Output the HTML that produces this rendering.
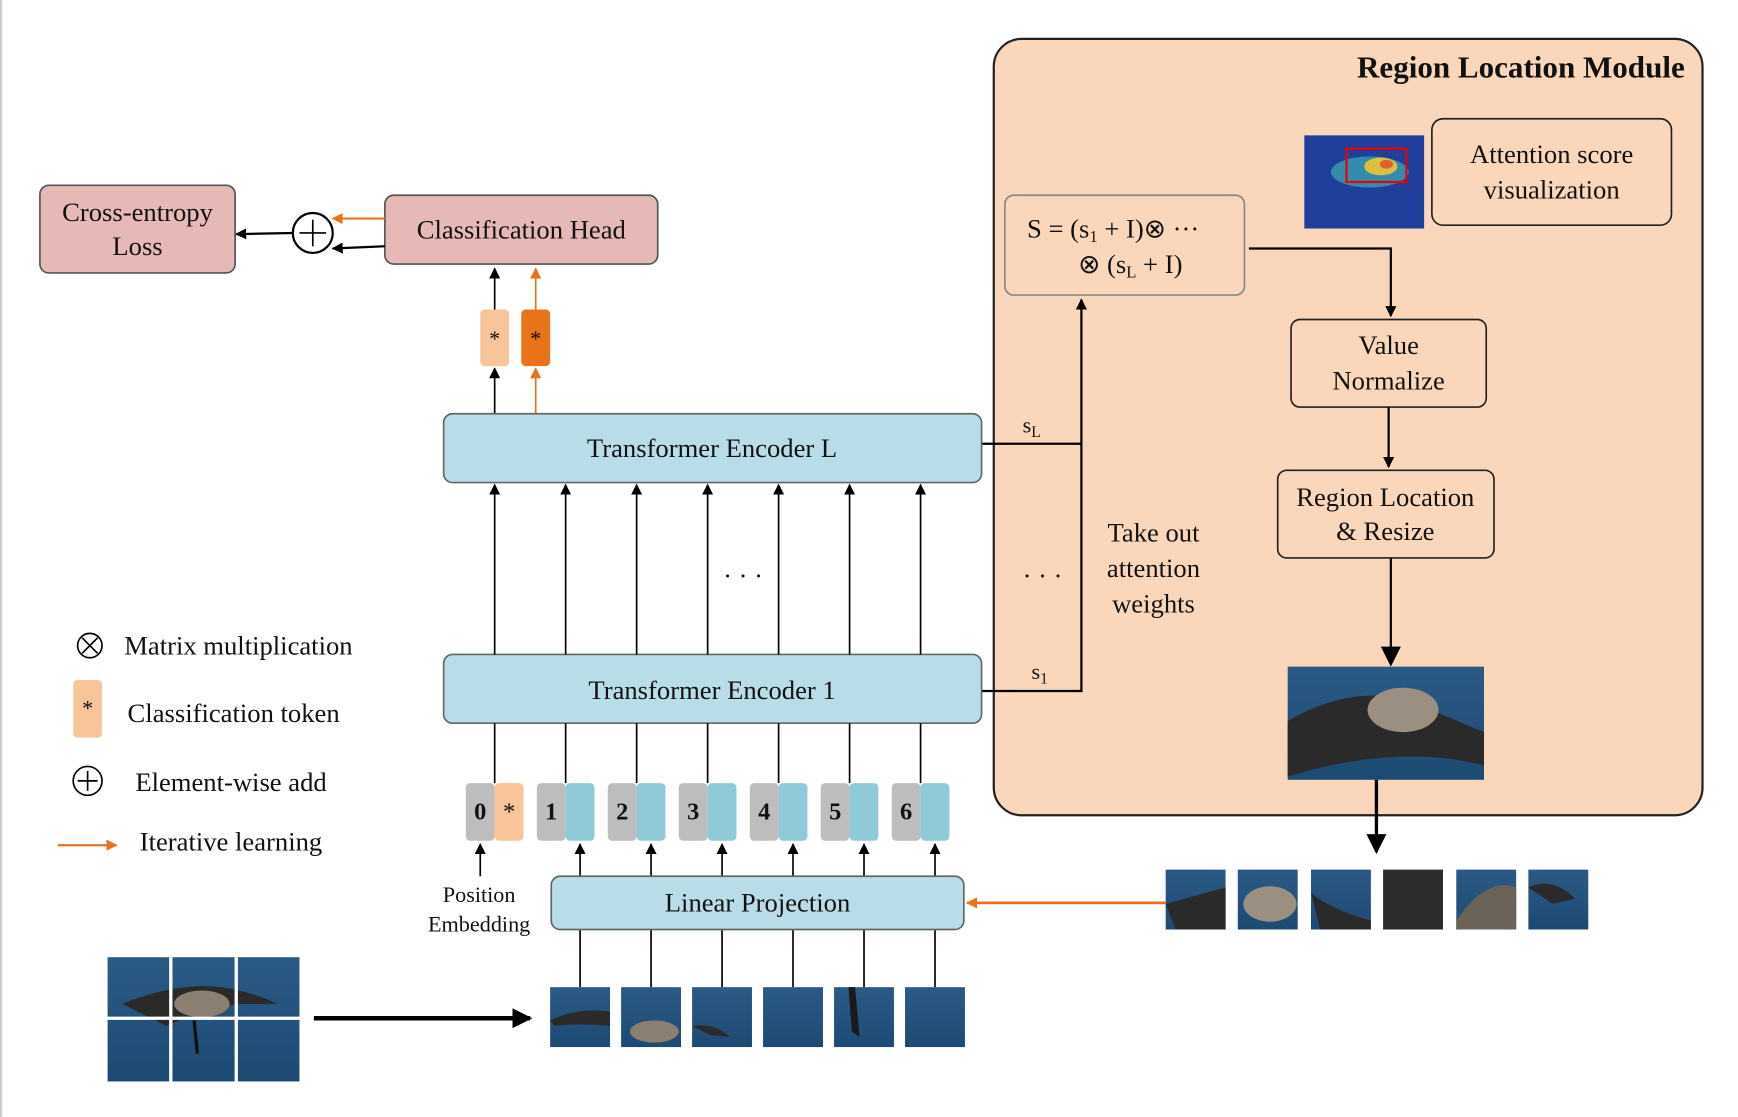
<!DOCTYPE html>
<html><head><meta charset="utf-8"><style>
html,body{margin:0;padding:0;background:#fff}
svg{display:block}
text{font-family:"Liberation Serif",serif;fill:#111}
</style></head><body>
<svg width="1738" height="1117" viewBox="0 0 1567 1007" xmlns="http://www.w3.org/2000/svg">
<defs>
<marker id="ab" markerWidth="10" markerHeight="10" refX="9" refY="5" orient="auto" markerUnits="userSpaceOnUse"><path d="M0,0 L10,5 L0,10 Z" fill="#000"/></marker>
<marker id="ao" markerWidth="10" markerHeight="10" refX="9" refY="5" orient="auto" markerUnits="userSpaceOnUse"><path d="M0,0 L10,5 L0,10 Z" fill="#e8731a"/></marker>
<marker id="abig" markerWidth="18" markerHeight="18" refX="16" refY="9" orient="auto" markerUnits="userSpaceOnUse"><path d="M0,0 L18,9 L0,18 Z" fill="#000"/></marker>
<linearGradient id="sea" x1="0" y1="0" x2="0" y2="1"><stop offset="0" stop-color="#2b5a85"/><stop offset="1" stop-color="#1d4a73"/></linearGradient>
</defs>
<line x1="1" y1="0" x2="1" y2="1007" stroke="#ccc" stroke-width="2"/>

<rect x="896" y="35" width="639" height="700" rx="25" fill="#fad7bb" stroke="#222" stroke-width="2"/>
<text x="1519" y="70" text-anchor="end" font-size="28" font-weight="bold">Region Location Module</text>
<rect x="906" y="176" width="216" height="90" rx="8" fill="#fad7bb" stroke="#888" stroke-width="1.5"/>
<text x="926" y="214" font-size="24">S = (s<tspan font-size="15" dy="4">1</tspan><tspan dy="-4"> + I)⊗ ···</tspan></text>
<text x="972" y="246" font-size="24">⊗ (s<tspan font-size="15" dy="4">L</tspan><tspan dy="-4"> + I)</tspan></text>
<rect x="1176" y="122" width="108" height="84" fill="#1f3f9a"/>
<ellipse cx="1235" cy="155" rx="35" ry="14" fill="#3aa0b0" opacity="0.8"/>
<ellipse cx="1245" cy="150" rx="15" ry="8" fill="#d8c040"/>
<ellipse cx="1250" cy="148" rx="6" ry="4" fill="#e06030"/>
<rect x="1214" y="134" width="54" height="30" fill="none" stroke="#e00" stroke-width="2"/>
<rect x="1291" y="107" width="216" height="96" rx="10" fill="#fad7bb" stroke="#222" stroke-width="1.5"/>
<text x="1399" y="147" text-anchor="middle" font-size="24">Attention score</text>
<text x="1399" y="179" text-anchor="middle" font-size="24">visualization</text>
<polyline points="1126,224 1254,224 1254,285" fill="none" stroke="#000" stroke-width="2" marker-end="url(#ab)"/>
<rect x="1164" y="288" width="176" height="79" rx="8" fill="#fad7bb" stroke="#222" stroke-width="1.5"/>
<text x="1252" y="319" text-anchor="middle" font-size="24">Value</text>
<text x="1252" y="351" text-anchor="middle" font-size="24">Normalize</text>
<line x1="1252" y1="367" x2="1252" y2="421" stroke="#000" stroke-width="2" marker-end="url(#ab)"/>
<rect x="1152" y="424" width="195" height="79" rx="8" fill="#fad7bb" stroke="#222" stroke-width="1.5"/>
<text x="1249" y="456" text-anchor="middle" font-size="24">Region Location</text>
<text x="1249" y="487" text-anchor="middle" font-size="24">&amp; Resize</text>
<line x1="1254" y1="503" x2="1254" y2="599" stroke="#000" stroke-width="2" marker-end="url(#abig)"/>
<rect x="1161" y="601" width="177" height="102" fill="url(#sea)"/>
<path d="M1161,650 Q1230,610 1290,640 L1338,660 L1338,690 Q1260,670 1161,700 Z" fill="#2a2a2a"/>
<ellipse cx="1265" cy="640" rx="32" ry="20" fill="#9a8f80"/>
<line x1="1241" y1="703" x2="1241" y2="768" stroke="#000" stroke-width="3" marker-end="url(#abig)"/>
<text x="922" y="390" font-size="20">s<tspan font-size="14" dy="4">L</tspan></text>
<text x="930" y="612" font-size="20">s<tspan font-size="14" dy="4">1</tspan></text>
<polyline points="885,400 975,400" fill="none" stroke="#000" stroke-width="2"/>
<polyline points="885,623 975,623 975,270" fill="none" stroke="#000" stroke-width="2" marker-end="url(#ab)"/>
<text x="940" y="527" text-anchor="middle" font-size="24">· · ·</text>
<text x="1040" y="488" text-anchor="middle" font-size="24">Take out</text>
<text x="1040" y="520" text-anchor="middle" font-size="24">attention</text>
<text x="1040" y="552" text-anchor="middle" font-size="24">weights</text>

<g>
<rect x="1051" y="784" width="54" height="54" fill="url(#sea)"/><path d="M1051,815 L1105,800 L1105,838 L1060,838Z" fill="#2a2a2a"/>
<rect x="1116" y="784" width="54" height="54" fill="url(#sea)"/><ellipse cx="1145" cy="815" rx="24" ry="16" fill="#9a8f80"/>
<rect x="1182" y="784" width="54" height="54" fill="url(#sea)"/><path d="M1182,805 Q1200,820 1236,830 L1236,838 L1190,838Z" fill="#2a2a2a"/>
<rect x="1247" y="784" width="54" height="54" fill="#2c2c2c"/>
<rect x="1313" y="784" width="54" height="54" fill="url(#sea)"/><path d="M1313,830 Q1340,790 1367,800 L1367,838 L1313,838Z" fill="#6b6358"/>
<rect x="1378" y="784" width="54" height="54" fill="url(#sea)"/><path d="M1378,800 Q1400,790 1420,810 L1400,815Z" fill="#2a2a2a"/>
</g>
<line x1="1051" y1="814" x2="872" y2="814" stroke="#e8731a" stroke-width="2.5" marker-end="url(#ao)"/>

<rect x="36" y="167" width="176" height="79" rx="8" fill="#e6b8b6" stroke="#555" stroke-width="1.5"/>
<text x="124" y="199" text-anchor="middle" font-size="24">Cross-entropy</text>
<text x="124" y="230" text-anchor="middle" font-size="24">Loss</text>
<rect x="347" y="176" width="246" height="62" rx="8" fill="#e6b8b6" stroke="#555" stroke-width="1.5"/>
<text x="470" y="215" text-anchor="middle" font-size="24">Classification Head</text>
<circle cx="282" cy="210" r="18" fill="#fff" stroke="#000" stroke-width="2"/>
<line x1="270" y1="210" x2="294" y2="210" stroke="#000" stroke-width="1.5"/><line x1="282" y1="198" x2="282" y2="222" stroke="#000" stroke-width="1.5"/>
<line x1="347" y1="197" x2="300" y2="197" stroke="#e8731a" stroke-width="2" marker-end="url(#ao)"/>
<line x1="347" y1="222" x2="300" y2="224" stroke="#000" stroke-width="2" marker-end="url(#ab)"/>
<line x1="264" y1="210" x2="213" y2="211" stroke="#000" stroke-width="2" marker-end="url(#ab)"/>
<rect x="433" y="279" width="26" height="51" rx="4" fill="#f8c49a"/>
<rect x="470" y="279" width="26" height="51" rx="4" fill="#e8731a"/>
<text x="446" y="312" text-anchor="middle" font-size="20">*</text>
<text x="483" y="312" text-anchor="middle" font-size="20">*</text>
<line x1="446" y1="279" x2="446" y2="242" stroke="#000" stroke-width="1.5" marker-end="url(#ab)"/>
<line x1="483" y1="279" x2="483" y2="242" stroke="#e8731a" stroke-width="1.5" marker-end="url(#ao)"/>
<line x1="446" y1="373" x2="446" y2="332" stroke="#000" stroke-width="1.5" marker-end="url(#ab)"/>
<line x1="483" y1="373" x2="483" y2="332" stroke="#e8731a" stroke-width="1.5" marker-end="url(#ao)"/>

<rect x="400" y="373" width="485" height="62" rx="8" fill="#b8dde8" stroke="#666" stroke-width="1.5"/>
<text x="642" y="412" text-anchor="middle" font-size="24">Transformer Encoder L</text>
<rect x="400" y="590" width="485" height="62" rx="8" fill="#b8dde8" stroke="#666" stroke-width="1.5"/>
<text x="642" y="630" text-anchor="middle" font-size="24">Transformer Encoder 1</text>
<g stroke="#000" stroke-width="1.5">
<line x1="446" y1="590" x2="446" y2="437" marker-end="url(#ab)"/>
<line x1="510" y1="590" x2="510" y2="437" marker-end="url(#ab)"/>
<line x1="574" y1="590" x2="574" y2="437" marker-end="url(#ab)"/>
<line x1="638" y1="590" x2="638" y2="437" marker-end="url(#ab)"/>
<line x1="702" y1="590" x2="702" y2="437" marker-end="url(#ab)"/>
<line x1="766" y1="590" x2="766" y2="437" marker-end="url(#ab)"/>
<line x1="830" y1="590" x2="830" y2="437" marker-end="url(#ab)"/>
<line x1="446" y1="652" x2="446" y2="706"/><line x1="510" y1="652" x2="510" y2="706"/><line x1="574" y1="652" x2="574" y2="706"/><line x1="638" y1="652" x2="638" y2="706"/><line x1="702" y1="652" x2="702" y2="706"/><line x1="766" y1="652" x2="766" y2="706"/><line x1="830" y1="652" x2="830" y2="706"/>
</g>
<text x="670" y="527" text-anchor="middle" font-size="24">· · ·</text>

<g font-size="22" font-weight="bold">
<rect x="420" y="706" width="26" height="52" rx="4" fill="#bdbdbd"/><rect x="446" y="706" width="26" height="52" rx="4" fill="#f8c49a"/>
<text x="433" y="739" text-anchor="middle">0</text><text x="459" y="739" text-anchor="middle" font-weight="normal">*</text>
<rect x="484" y="706" width="26" height="52" rx="4" fill="#bdbdbd"/><rect x="510" y="706" width="26" height="52" rx="4" fill="#90cad8"/><text x="497" y="739" text-anchor="middle">1</text>
<rect x="548" y="706" width="26" height="52" rx="4" fill="#bdbdbd"/><rect x="574" y="706" width="26" height="52" rx="4" fill="#90cad8"/><text x="561" y="739" text-anchor="middle">2</text>
<rect x="612" y="706" width="26" height="52" rx="4" fill="#bdbdbd"/><rect x="638" y="706" width="26" height="52" rx="4" fill="#90cad8"/><text x="625" y="739" text-anchor="middle">3</text>
<rect x="676" y="706" width="26" height="52" rx="4" fill="#bdbdbd"/><rect x="702" y="706" width="26" height="52" rx="4" fill="#90cad8"/><text x="689" y="739" text-anchor="middle">4</text>
<rect x="740" y="706" width="26" height="52" rx="4" fill="#bdbdbd"/><rect x="766" y="706" width="26" height="52" rx="4" fill="#90cad8"/><text x="753" y="739" text-anchor="middle">5</text>
<rect x="804" y="706" width="26" height="52" rx="4" fill="#bdbdbd"/><rect x="830" y="706" width="26" height="52" rx="4" fill="#90cad8"/><text x="817" y="739" text-anchor="middle">6</text>
</g>
<g stroke="#000" stroke-width="1.5">
<line x1="433" y1="790" x2="433" y2="761" marker-end="url(#ab)"/>
<line x1="523" y1="790" x2="523" y2="761" marker-end="url(#ab)"/>
<line x1="587" y1="790" x2="587" y2="761" marker-end="url(#ab)"/>
<line x1="651" y1="790" x2="651" y2="761" marker-end="url(#ab)"/>
<line x1="715" y1="790" x2="715" y2="761" marker-end="url(#ab)"/>
<line x1="779" y1="790" x2="779" y2="761" marker-end="url(#ab)"/>
<line x1="843" y1="790" x2="843" y2="761" marker-end="url(#ab)"/>
<line x1="523" y1="838" x2="523" y2="890"/><line x1="587" y1="838" x2="587" y2="890"/><line x1="651" y1="838" x2="651" y2="890"/><line x1="715" y1="838" x2="715" y2="890"/><line x1="779" y1="838" x2="779" y2="890"/><line x1="843" y1="838" x2="843" y2="890"/>
</g>
<text x="432" y="813" text-anchor="middle" font-size="20">Position</text>
<text x="432" y="840" text-anchor="middle" font-size="20">Embedding</text>
<rect x="497" y="790" width="372" height="48" rx="8" fill="#b8dde8" stroke="#666" stroke-width="1.5"/>
<text x="683" y="822" text-anchor="middle" font-size="24">Linear Projection</text>

<g>
<rect x="496" y="890" width="54" height="54" fill="url(#sea)"/><path d="M496,920 Q520,908 550,912 L550,925 Q520,922 500,925Z" fill="#2a2a2a"/>
<rect x="560" y="890" width="54" height="54" fill="url(#sea)"/><ellipse cx="590" cy="930" rx="22" ry="10" fill="#8a7f70"/>
<rect x="624" y="890" width="54" height="54" fill="url(#sea)"/><path d="M624,925 Q645,922 658,935 L640,933Z" fill="#2a2a2a"/>
<rect x="688" y="890" width="54" height="54" fill="url(#sea)"/>
<rect x="752" y="890" width="54" height="54" fill="url(#sea)"/><path d="M765,890 L768,930 L775,935 L771,890Z" fill="#1a1a1a"/>
<rect x="816" y="890" width="54" height="54" fill="url(#sea)"/>
</g>
<g>
<rect x="97" y="863" width="173" height="112" fill="url(#sea)"/>
<path d="M110,905 Q160,885 200,890 Q230,895 250,905 L215,905 Q170,915 150,925Z" fill="#2a2a2a"/>
<ellipse cx="182" cy="905" rx="25" ry="12" fill="#8a7f70"/>
<line x1="175" y1="920" x2="178" y2="950" stroke="#111" stroke-width="3"/>
<line x1="97" y1="918" x2="270" y2="918" stroke="#fff" stroke-width="3"/>
<line x1="154" y1="863" x2="154" y2="975" stroke="#fff" stroke-width="3"/>
<line x1="213" y1="863" x2="213" y2="975" stroke="#fff" stroke-width="3"/>
</g>
<line x1="283" y1="918" x2="478" y2="918" stroke="#000" stroke-width="4" marker-end="url(#abig)"/>

<circle cx="81" cy="582" r="11" fill="none" stroke="#000" stroke-width="1.5"/>
<line x1="74" y1="575" x2="88" y2="589" stroke="#000" stroke-width="1.5"/><line x1="88" y1="575" x2="74" y2="589" stroke="#000" stroke-width="1.5"/>
<text x="112" y="590" font-size="24">Matrix multiplication</text>
<rect x="66" y="613" width="26" height="52" rx="4" fill="#f8c49a"/>
<text x="79" y="645" text-anchor="middle" font-size="20">*</text>
<text x="115" y="651" font-size="24">Classification token</text>
<circle cx="79" cy="704" r="13" fill="none" stroke="#000" stroke-width="1.5"/>
<line x1="70" y1="704" x2="88" y2="704" stroke="#000" stroke-width="1.5"/><line x1="79" y1="695" x2="79" y2="713" stroke="#000" stroke-width="1.5"/>
<text x="122" y="713" font-size="24">Element-wise add</text>
<line x1="52" y1="762" x2="105" y2="762" stroke="#e8731a" stroke-width="2" marker-end="url(#ao)"/>
<text x="126" y="767" font-size="24">Iterative learning</text>
</svg>
</body></html>
